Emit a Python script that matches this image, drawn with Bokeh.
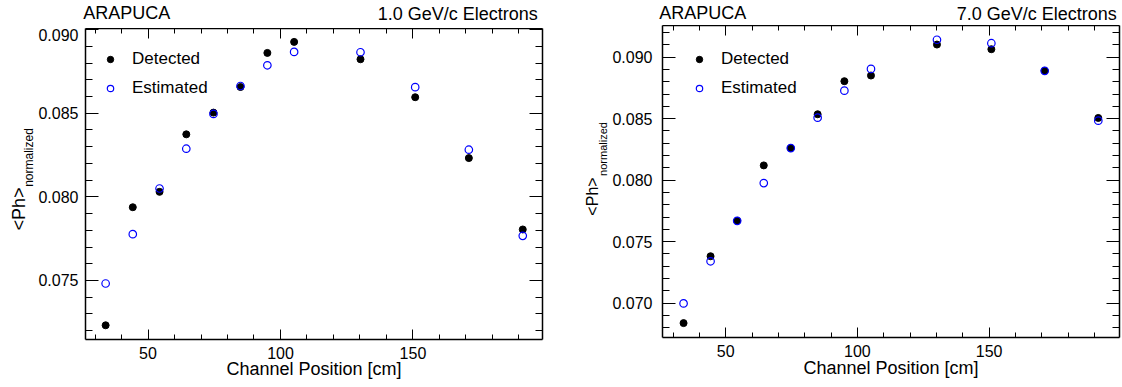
import math
from bokeh.plotting import figure
from bokeh.layouts import row, column
from bokeh.models import (Range1d, LinearAxis, FixedTicker, PrintfTickFormatter,
                          Legend, LegendItem)
from bokeh.core.properties import value
from bokeh.embed import file_html
from bokeh.resources import INLINE

FONT = "Liberation Sans"

# ---- data ----
channel_position_cm = [34.0, 44.25, 54.35, 64.45, 74.7, 84.9, 95.05, 105.15, 130.2, 150.85, 171.1, 191.45]

detected_1gev = [0.07232, 0.07938, 0.08030, 0.08374, 0.08504, 0.08657,
                 0.08861, 0.08927, 0.08823, 0.08596, 0.08232, 0.07805]
estimated_1gev = [0.07482, 0.07777, 0.08050, 0.08288, 0.08496, 0.08663,
                  0.08787, 0.08867, 0.08865, 0.08656, 0.08282, 0.07767]

detected_7gev = [0.06837, 0.07381, 0.07669, 0.08120, 0.08261, 0.08536,
                 0.08805, 0.08851, 0.09103, 0.09065, 0.08889, 0.08506]
estimated_7gev = [0.06997, 0.07340, 0.07669, 0.07976, 0.08261, 0.08508,
                  0.08728, 0.08905, 0.09142, 0.09114, 0.08889, 0.08484]

x_major_ticks = [50, 100, 150]
x_minor_ticks = [30, 40, 60, 70, 80, 90, 110, 120, 130, 140, 160, 170, 180, 190]

y_major_ticks_1gev = [0.075, 0.080, 0.085, 0.090]
y_minor_ticks_1gev = [0.072, 0.073, 0.074, 0.076, 0.077, 0.078, 0.079, 0.081,
                      0.082, 0.083, 0.084, 0.086, 0.087, 0.088, 0.089]
y_major_ticks_7gev = [0.070, 0.075, 0.080, 0.085, 0.090]
y_minor_ticks_7gev = [0.068, 0.069, 0.071, 0.072, 0.073, 0.074, 0.076, 0.077,
                      0.078, 0.079, 0.081, 0.082, 0.083, 0.084, 0.086, 0.087,
                      0.088, 0.089, 0.091, 0.092]

x_label = "Channel Position [cm]"
y_label_main = "<Ph>"
y_label_sub = "normalized"
left_title = "ARAPUCA"
right_titles = ["1.0 GeV/c Electrons", "7.0 GeV/c Electrons"]
series_names = ["Detected", "Estimated"]


def blank_strip(w, h):
    s = figure(frame_width=w, frame_height=h, x_range=Range1d(0, w),
               y_range=Range1d(0, h), x_axis_type=None, y_axis_type=None,
               toolbar_location=None, output_backend="svg", min_border=0,
               min_border_left=0, min_border_right=0, min_border_top=0,
               min_border_bottom=0, outline_line_color=None,
               background_fill_color="white", border_fill_color="white")
    s.grid.visible = False
    return s


def top_strip(w, h, right_text, ax, ay, rx, ry):
    s = blank_strip(w, h)
    s.text(x=[ax], y=[ay], text=[left_title], text_font=value(FONT),
           text_font_size=value("18px"), text_align="left",
           text_baseline="middle", text_color="black")
    s.text(x=[rx], y=[ry], text=[right_text], text_font=value(FONT),
           text_font_size=value("18px"), text_align="right",
           text_baseline="middle", text_color="black")
    return s


def ytitle_strip(w, h, main_xy, main_fs, sub_xy, sub_fs):
    s = blank_strip(w, h)
    s.text(x=[main_xy[0]], y=[main_xy[1]], text=[y_label_main], angle=math.pi / 2,
           text_font=value(FONT), text_font_size=value(main_fs),
           text_align="center", text_baseline="middle", text_color="black")
    s.text(x=[sub_xy[0]], y=[sub_xy[1]], text=[y_label_sub], angle=math.pi / 2,
           text_font=value(FONT), text_font_size=value(sub_fs),
           text_align="center", text_baseline="middle", text_color="black")
    return s


def add_axis(p, side, major, minor, fmt, major_len, minor_len, show_labels,
             title=None, title_standoff=0, label_standoff=9):
    ax = LinearAxis(ticker=FixedTicker(ticks=major, minor_ticks=minor),
                    formatter=PrintfTickFormatter(format=fmt))
    ax.axis_line_color = "black"
    ax.axis_line_width = 1.5
    ax.major_tick_line_color = "black"
    ax.minor_tick_line_color = "black"
    ax.major_tick_line_width = 1
    ax.minor_tick_line_width = 1
    ax.major_tick_in = major_len
    ax.major_tick_out = 0
    ax.minor_tick_in = minor_len
    ax.minor_tick_out = 0
    ax.major_label_text_font = FONT
    ax.major_label_text_color = "black"
    if show_labels:
        ax.major_label_text_font_size = "16px"
        ax.major_label_standoff = label_standoff
    else:
        ax.major_label_text_font_size = "0px"
        ax.major_label_text_alpha = 0
        ax.major_label_standoff = 0
    if title is not None:
        ax.axis_label = title
        ax.axis_label_text_font = FONT
        ax.axis_label_text_font_size = "18px"
        ax.axis_label_text_font_style = "normal"
        ax.axis_label_text_color = "black"
        ax.axis_label_standoff = title_standoff
    p.add_layout(ax, side)
    return ax


def main_panel(det, est, xr, yr, ymaj, ymin, frame_h, borders, legend_xy,
               title_standoff, y_label_standoff):
    bl, br, bt, bb = borders
    p = figure(frame_width=457, frame_height=frame_h,
               x_range=Range1d(*xr), y_range=Range1d(*yr),
               x_axis_type=None, y_axis_type=None,
               toolbar_location=None, output_backend="svg",
               min_border_left=bl, min_border_right=br,
               min_border_top=bt, min_border_bottom=bb,
               background_fill_color="white", border_fill_color="white",
               outline_line_color=None)

    add_axis(p, "below", x_major_ticks, x_minor_ticks, "%d", 10, 5, True,
             title=x_label, title_standoff=title_standoff, label_standoff=7)
    add_axis(p, "above", x_major_ticks, x_minor_ticks, "%d", 10, 5, False)
    add_axis(p, "left", ymaj, ymin, "%.3f", 13, 7, True,
             label_standoff=y_label_standoff)
    add_axis(p, "right", ymaj, ymin, "%.3f", 13, 7, False)

    r_det = p.scatter(channel_position_cm, det, marker="circle", size=7,
                      fill_color="black", line_color="black", line_width=1)
    r_est = p.scatter(channel_position_cm, est, marker="circle", size=7.5,
                      fill_color=None, line_color="#0000ff", line_width=1.2)

    legend = Legend(items=[LegendItem(label=series_names[0], renderers=[r_det]),
                           LegendItem(label=series_names[1], renderers=[r_est])],
                    location=legend_xy, orientation="vertical",
                    border_line_color=None, background_fill_alpha=0,
                    padding=0, margin=0, spacing=3,
                    glyph_width=16, glyph_height=26, label_height=26,
                    label_standoff=14, label_text_font=FONT,
                    label_text_font_size="17px", label_text_color="black")
    p.add_layout(legend)
    return p


# ---- left panel (1.0 GeV/c) ----
m1 = main_panel(detected_1gev, estimated_1gev, (26.4, 198.9), (0.07147, 0.09007),
                y_major_ticks_1gev, y_minor_ticks_1gev, 311,
                borders=(47, 41, 0, 48), legend_xy=(17, 238), title_standoff=-3,
                y_label_standoff=7)
t1 = top_strip(580, 28, right_titles[0], 82.7, 16.0, 537.3, 14.4)
y1 = ytitle_strip(35, 359, (18.3, 178.5), "18px", (28.2, 230.0), "12px")
left = column(t1, row(y1, m1))

# ---- right panel (7.0 GeV/c) ----
m2 = main_panel(detected_7gev, estimated_7gev, (26.0, 199.5), (0.0672, 0.09258),
                y_major_ticks_7gev, y_minor_ticks_7gev, 312,
                borders=(50, 9, 0, 50), legend_xy=(29, 236), title_standoff=-2,
                y_label_standoff=10)
t2 = top_strip(542, 25, right_titles[1], 75.7, 13.0, 533.3, 11.4)
y2 = ytitle_strip(26, 362, (9.0, 191.0), "16px", (19.3, 238.5), "11px")
right = column(t2, row(y2, m2))

layout = row(left, right)
open("out.html", "w").write(file_html(layout, INLINE))
